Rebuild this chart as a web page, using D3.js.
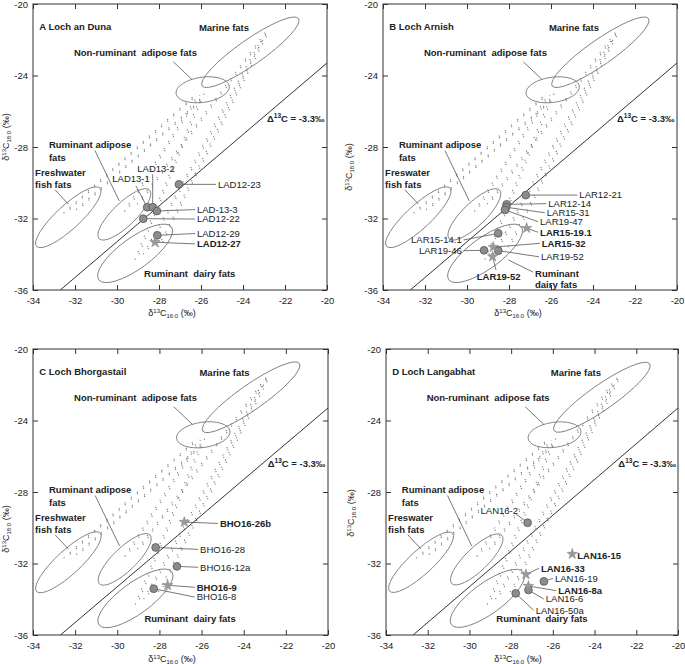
<!DOCTYPE html>
<html>
<head>
<meta charset="utf-8">
<script src="https://cdn.jsdelivr.net/npm/d3@7"></script>
<style>
  body { margin: 0; background: #fff; }
  svg { font-family: "Liberation Sans", Arial, sans-serif; }
  text { white-space: pre; }
  .frame { fill: none; stroke: #333; stroke-width: 1; }
  .ellipse { fill: none; stroke: #808080; stroke-width: 0.9; }
  .mix { stroke: #7a7a7a; stroke-width: 1.1; stroke-dasharray: 1.2 7; fill: none; }
  .lead { stroke: #555; stroke-width: 0.8; fill: none; }
  .tick text { font-size: 9.5px; fill: #222; }
  .tick line { stroke: #333; }
  .src { font-size: 9.5px; font-weight: bold; fill: #222; }
  .lbl { font-size: 9.5px; fill: #222; }
</style>
</head>
<body>
<div id="chart"></div>
<script>
// axis ticks
let xTicks = d3.range(-34, -19, 2);
let yTicks = [-20, -24, -28, -32, -36];

// source end-member ellipses (d13C16:0, d13C18:0, semi-axes in permil, tilt in degrees)
let sources = [
  {name: 'marine', cx: -23.65, cy: -22.7, a: 2.8, b: 0.6, tilt: 35},
  {name: 'nonRuminant', cx: -25.92, cy: -24.8, a: 1.28, b: 0.6, tilt: 8},
  {name: 'freshwater', cx: -32.32, cy: -31.93, a: 2.05, b: 0.57, tilt: 42.6},
  {name: 'ruminantAdipose', cx: -29.65, cy: -31.77, a: 1.67, b: 0.55, tilt: 44},
  {name: 'ruminantDairy', cx: -29.14, cy: -33.95, a: 2.14, b: 0.74, tilt: 36}
];

// mixing lines between end-members [x1, y1, x2, y2]
let mixing = [
  [-32.5, -31.7, -26.2, -25.05],
  [-31.9, -31.5, -25.9, -25.3],
  [-29.6, -31.6, -26.1, -25.1],
  [-29.0, -31.2, -22.9, -21.6],
  [-29.1, -34.3, -25.9, -25.0],
  [-28.7, -34.0, -23.1, -22.0],
  [-28.0, -33.6, -22.8, -21.5]
];

// samples per loch
let lochAnDuna = [
  {id: 'LAD12-23', c16: -27.05, c18: -30.09, kind: 'circle'},
  {id: 'LAD13-1', c16: -28.56, c18: -31.37, kind: 'circle'},
  {id: 'LAD13-2', c16: -28.3, c18: -31.37, kind: 'circle'},
  {id: 'LAD-13-3', c16: -28.1, c18: -31.58, kind: 'circle'},
  {id: 'LAD12-22', c16: -28.75, c18: -32.01, kind: 'circle'},
  {id: 'LAD12-29', c16: -28.08, c18: -32.94, kind: 'circle'},
  {id: 'LAD12-27', c16: -28.19, c18: -33.33, kind: 'star'}
];
let lochArnish = [
  {id: 'LAR12-21', c16: -27.2, c18: -30.69, kind: 'circle'},
  {id: 'LAR12-14', c16: -28.11, c18: -31.21, kind: 'circle'},
  {id: 'LAR15-31', c16: -28.14, c18: -31.37, kind: 'circle'},
  {id: 'LAR19-47', c16: -28.19, c18: -31.52, kind: 'circle'},
  {id: 'LAR15-14.1', c16: -28.51, c18: -32.83, kind: 'circle'},
  {id: 'LAR19-46', c16: -29.19, c18: -33.78, kind: 'circle'},
  {id: 'LAR19-52', c16: -28.51, c18: -33.8, kind: 'circle'},
  {id: 'LAR15-19.1', c16: -27.16, c18: -32.54, kind: 'star'},
  {id: 'LAR15-32', c16: -28.75, c18: -33.6, kind: 'star'},
  {id: 'LAR19-52', c16: -28.78, c18: -34.13, kind: 'star'}
];
let lochBhorgastail = [
  {id: 'BHO16-26b', c16: -26.82, c18: -29.68, kind: 'star'},
  {id: 'BHO16-28', c16: -28.18, c18: -31.1, kind: 'circle'},
  {id: 'BHO16-12a', c16: -27.17, c18: -32.16, kind: 'circle'},
  {id: 'BHO16-9', c16: -27.61, c18: -33.22, kind: 'star'},
  {id: 'BHO16-8', c16: -28.27, c18: -33.41, kind: 'circle'}
];
let lochLangabhat = [
  {id: 'LAN16-2', c16: -27.21, c18: -29.72, kind: 'circle'},
  {id: 'LAN16-15', c16: -25.07, c18: -31.47, kind: 'star'},
  {id: 'LAN16-33', c16: -27.29, c18: -32.61, kind: 'star'},
  {id: 'LAN16-19', c16: -26.43, c18: -33.0, kind: 'circle'},
  {id: 'LAN16-8a', c16: -27.17, c18: -33.26, kind: 'star'},
  {id: 'LAN16-6', c16: -27.17, c18: -33.48, kind: 'circle'},
  {id: 'LAN16-50a', c16: -27.78, c18: -33.67, kind: 'circle'}
];

// label placement (same order as the samples), in plot units
let ladLabels = [
  {x: -25.19, y: -30.09},
  {x: -29.33, y: -29.79, anchor: 'middle', to: [-29.1, -30.18]},
  {x: -28.14, y: -29.23, anchor: 'middle', to: [-28.3, -29.52]},
  {x: -26.19, y: -31.5},
  {x: -26.19, y: -32.03},
  {x: -26.19, y: -32.84},
  {x: -26.19, y: -33.42}
];
let larLabels = [
  {x: -24.65, y: -30.69},
  {x: -26.13, y: -31.17},
  {x: -26.2, y: -31.68},
  {x: -26.52, y: -32.18},
  {x: -30.25, y: -33.2, anchor: 'end'},
  {x: -30.25, y: -33.8, anchor: 'end'},
  {x: -26.48, y: -34.14},
  {x: -26.52, y: -32.77},
  {x: -26.44, y: -33.39},
  {x: -28.49, y: -35.27, anchor: 'middle', to: [-28.62, -34.88]}
];
let bhoLabels = [
  {x: -25.13, y: -29.76},
  {x: -26.07, y: -31.21},
  {x: -26.07, y: -32.21},
  {x: -26.23, y: -33.33},
  {x: -26.23, y: -33.88}
];
let lanLabels = [
  {x: -27.67, y: -29.05, anchor: 'end', to: [-27.77, -29.23]},
  {x: -24.83, y: -31.54, noLead: true},
  {x: -26.57, y: -32.27},
  {x: -25.9, y: -32.83},
  {x: -25.74, y: -33.52},
  {x: -26.34, y: -33.99},
  {x: -26.82, y: -34.62}
];

let panels = [
  {title: 'A Loch an Duna', samples: lochAnDuna, labels: ladLabels, fresh: 'Freshwater',
   box: [33, 327, 4, 290], xTitle: [172, 316], yTitle: [6, 137]},
  {title: 'B Loch Arnish', samples: lochArnish, labels: larLabels, fresh: 'Freswater', dairyRight: true,
   box: [383, 677, 4, 290], xTitle: [518, 316], yTitle: [349, 167]},
  {title: 'C Loch Bhorgastail', samples: lochBhorgastail, labels: bhoLabels, fresh: 'Freshwater',
   box: [33, 328, 349, 635], xTitle: [172, 662], yTitle: [6, 529]},
  {title: 'D Loch Langabhat', samples: lochLangabhat, labels: lanLabels, fresh: 'Freswater',
   box: [386, 678, 349, 635], xTitle: [518, 662], yTitle: [351, 513]}
];

let svg = d3.select('#chart').append('svg')
  .attr('width', 685)
  .attr('height', 664);

svg.append('rect').attr('width', 685).attr('height', 664).attr('fill', '#fff');

function drawPanel(p) {
  let [x0, x1, y0, y1] = p.box;
  let x = d3.scaleLinear().domain([-34, -20]).range([x0, x1]);
  let y = d3.scaleLinear().domain([-36, -20]).range([y1, y0]);
  let k = x(1) - x(0);
  let g = svg.append('g');

  // axes, ticks pointing inward
  g.append('g').attr('transform', `translate(0,${y1})`)
    .call(d3.axisBottom(x).tickValues(xTicks).tickSize(-5).tickPadding(7).tickFormat(d3.format('d')));
  g.append('g').attr('transform', `translate(0,${y0})`)
    .call(d3.axisTop(x).tickValues(xTicks).tickSize(-5).tickFormat(''));
  g.append('g').attr('transform', `translate(${x0},0)`)
    .call(d3.axisLeft(y).tickValues(yTicks).tickSize(-5).tickPadding(5).tickFormat(d3.format('d')));
  g.append('g').attr('transform', `translate(${x1},0)`)
    .call(d3.axisRight(y).tickValues(yTicks).tickSize(-5).tickFormat(''));
  g.selectAll('.domain').remove();
  g.selectAll('.tick text').text(function() { return this.textContent.replace('−', '-'); });

  g.append('rect').attr('class', 'frame')
    .attr('x', x0).attr('y', y0).attr('width', x1 - x0).attr('height', y1 - y0);

  let clip = 'clip' + p.title[0];
  g.append('clipPath').attr('id', clip).append('rect')
    .attr('x', x0).attr('y', y0).attr('width', x1 - x0).attr('height', y1 - y0);
  let plot = g.append('g').attr('clip-path', `url(#${clip})`);

  // mixing lines, drawn as paired dots
  [-1, 1].forEach(off => {
    plot.selectAll('.mix' + off).data(mixing).enter().append('line')
      .attr('class', 'mix')
      .attr('x1', d => x(d[0]) + off).attr('y1', d => y(d[1]))
      .attr('x2', d => x(d[2]) + off).attr('y2', d => y(d[3]))
      .attr('stroke-dashoffset', off > 0 ? 2.5 : 0);
  });

  // source ellipses
  plot.selectAll('.ellipse').data(sources).enter().append('ellipse')
    .attr('class', 'ellipse')
    .attr('cx', d => x(d.cx)).attr('cy', d => y(d.cy))
    .attr('rx', d => d.a * k).attr('ry', d => d.b * k)
    .attr('transform', d => `rotate(${-d.tilt},${x(d.cx)},${y(d.cy)})`);

  // delta = -3.3 permil line
  let dx = [-36 + 3.3, -20];
  plot.append('line')
    .attr('x1', x(dx[0])).attr('y1', y(dx[0] - 3.3))
    .attr('x2', x(dx[1])).attr('y2', y(dx[1] - 3.3))
    .attr('stroke', '#333').attr('stroke-width', 1);

  let delta = g.append('text').attr('class', 'src')
    .attr('x', x(-22.86)).attr('y', y(-26.6));
  delta.append('tspan').text('Δ');
  delta.append('tspan').attr('font-size', '6.5px').attr('dy', -3.5).text('13');
  delta.append('tspan').attr('dy', 3.5).text('C = -3.3‰');

  // source names and their pointers
  let srcText = (tx, ty, s) => g.append('text').attr('class', 'src').attr('x', x(tx)).attr('y', y(ty)).text(s);
  let lead = (ax, ay, bx, by) => g.append('line').attr('class', 'lead')
    .attr('x1', x(ax)).attr('y1', y(ay)).attr('x2', x(bx)).attr('y2', y(by));

  g.append('text').attr('class', 'src').attr('x', x(-33.7)).attr('y', y(-21.45)).text(p.title);
  srcText(-26.1, -21.5, 'Marine fats');
  srcText(-32.05, -22.9, 'Non-ruminant  adipose fats');
  lead(-27.32, -23.23, -26.44, -24.21);
  srcText(-33.24, -28.06, 'Ruminant adipose');
  srcText(-33.24, -28.78, 'fats');
  lead(-31.05, -28.2, -29.89, -31.02);
  srcText(-33.9, -29.65, p.fresh);
  srcText(-33.9, -30.32, 'fish fats');
  lead(-32.95, -30.4, -32.32, -31.19);
  if (p.dairyRight) {
    srcText(-26.76, -35.27, 'Ruminant');
    srcText(-26.76, -35.88, 'dairy fats');
    lead(-26.85, -35.0, -28.03, -34.32);
  } else {
    srcText(-28.71, -35.27, 'Ruminant  dairy fats');
  }

  // sample leaders and labels
  p.samples.forEach((s, i) => {
    let l = p.labels[i];
    let anchor = l.anchor || 'start';
    if (!l.noLead) {
      let ex, ey;
      if (l.to) { ex = x(l.to[0]); ey = y(l.to[1]); }
      else { ex = x(l.x) + (anchor === 'end' ? 2 : -2); ey = y(l.y); }
      g.append('line').attr('class', 'lead')
        .attr('x1', x(s.c16)).attr('y1', y(s.c18)).attr('x2', ex).attr('y2', ey);
    }
    g.append('text').attr('class', 'lbl')
      .attr('x', x(l.x)).attr('y', y(l.y)).attr('dy', '0.35em')
      .attr('text-anchor', anchor)
      .attr('font-weight', s.kind === 'star' ? 'bold' : null)
      .text(s.id);
  });

  // sample markers
  g.selectAll('.pt').data(p.samples.filter(s => s.kind === 'circle')).enter().append('circle')
    .attr('cx', d => x(d.c16)).attr('cy', d => y(d.c18)).attr('r', 3.9)
    .attr('fill', '#8c8c8c').attr('stroke', '#555').attr('stroke-width', 0.8);
  g.selectAll('.st').data(p.samples.filter(s => s.kind === 'star')).enter().append('path')
    .attr('d', d3.symbol(d3.symbolStar).size(34))
    .attr('transform', d => `translate(${x(d.c16)},${y(d.c18)})`)
    .attr('fill', '#9a9a9a').attr('stroke', '#888').attr('stroke-width', 0.6);

  // axis titles
  let xt = svg.append('text').attr('x', p.xTitle[0]).attr('y', p.xTitle[1])
    .attr('text-anchor', 'middle').attr('font-size', '9px').attr('fill', '#222');
  xt.append('tspan').text('δ');
  xt.append('tspan').attr('font-size', '6px').attr('dy', -3.5).text('13');
  xt.append('tspan').attr('dy', 3.5).text('C');
  xt.append('tspan').attr('font-size', '6px').attr('dy', 1.5).text('16:0');
  xt.append('tspan').attr('dy', -1.5).text(' (‰)');

  let yt = svg.append('text')
    .attr('transform', `translate(${p.yTitle[0] + 3},${p.yTitle[1]}) rotate(-90)`)
    .attr('text-anchor', 'middle').attr('font-size', '9px').attr('fill', '#222');
  yt.append('tspan').text('δ');
  yt.append('tspan').attr('font-size', '6px').attr('dy', -3.5).text('13');
  yt.append('tspan').attr('dy', 3.5).text('C');
  yt.append('tspan').attr('font-size', '6px').attr('dy', 1.5).text('18:0');
  yt.append('tspan').attr('dy', -1.5).text(' (‰)');
}

panels.forEach(drawPanel);
</script>
</body>
</html>
